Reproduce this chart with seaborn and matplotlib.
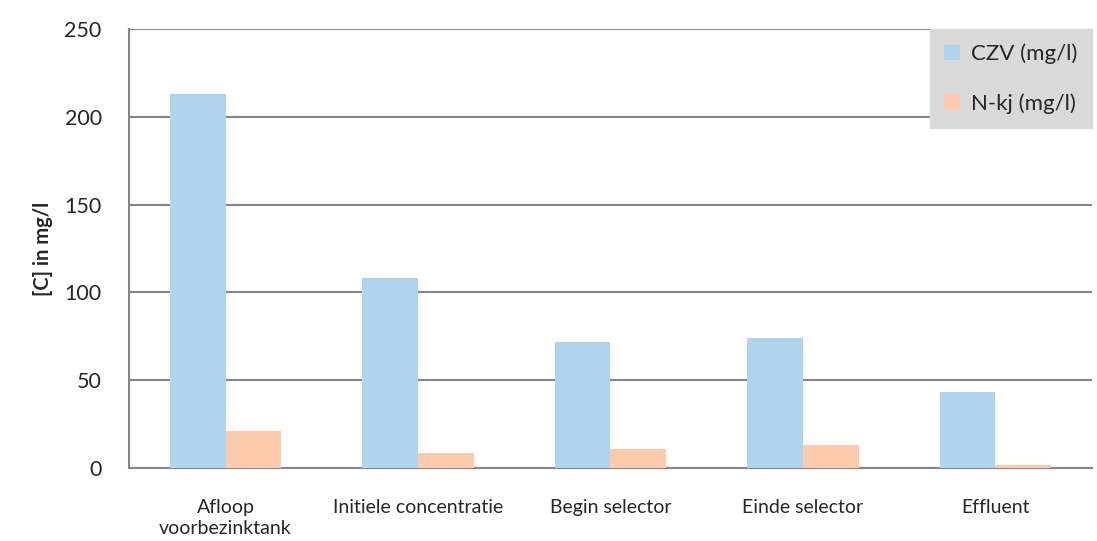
import seaborn as sns
import pandas as pd
import matplotlib.pyplot as plt

categories = ['Afloop\nvoorbezinktank', 'Initiele concentratie', 'Begin selector',
              'Einde selector', 'Effluent']
czv = [213, 108.5, 72, 74, 43]
nkj = [21, 8.5, 10.7, 13, 1.5]
series = ['CZV (mg/l)', 'N-kj (mg/l)']
colors = ['#B0D4EE', '#FBCBAC']

df = pd.DataFrame({'cat': categories * 2,
                   'val': czv + nkj,
                   'serie': [series[0]] * 5 + [series[1]] * 5})

sns.set_style('white')
plt.rcParams['font.family'] = ['Lato', 'DejaVu Sans']

fig = plt.figure(figsize=(10.97, 5.41), dpi=100)
ax = fig.add_axes([0.118, 0.135, 0.877, 0.811])
sns.barplot(data=df, x='cat', y='val', hue='serie', palette=colors,
            width=0.58, saturation=1, linewidth=0, ax=ax, zorder=3)

ax.set_ylim(0, 250)
ax.set_yticks(range(0, 251, 50))
ax.set_xlim(-0.5, 4.5)
ax.yaxis.grid(True, color='#868686', linewidth=1.5, zorder=0)
ax.set_axisbelow(True)
for s in ['top', 'right']:
    ax.spines[s].set_visible(False)
for s in ['left', 'bottom']:
    ax.spines[s].set_color('#868686')
    ax.spines[s].set_linewidth(1.5)
ax.tick_params(axis='y', length=0, labelsize=15.5, pad=20)
ax.tick_params(axis='x', length=0, labelsize=14, pad=22)
for lbl in ax.get_xticklabels():
    lbl.set_linespacing(1.3)
ax.set_xlabel('')
ax.set_ylabel('[C] in mg/l', fontsize=14.5, fontweight='bold', labelpad=8)

leg = ax.legend(loc='upper right', bbox_to_anchor=(1.0, 1.0), fontsize=16,
                frameon=True, fancybox=False, facecolor='#D9D9D9',
                edgecolor='#D9D9D9', framealpha=1, handlelength=0.7,
                handleheight=0.7, labelspacing=1.3, borderpad=0.65,
                handletextpad=0.5, borderaxespad=0)

fig.savefig('out.png', dpi=100)
